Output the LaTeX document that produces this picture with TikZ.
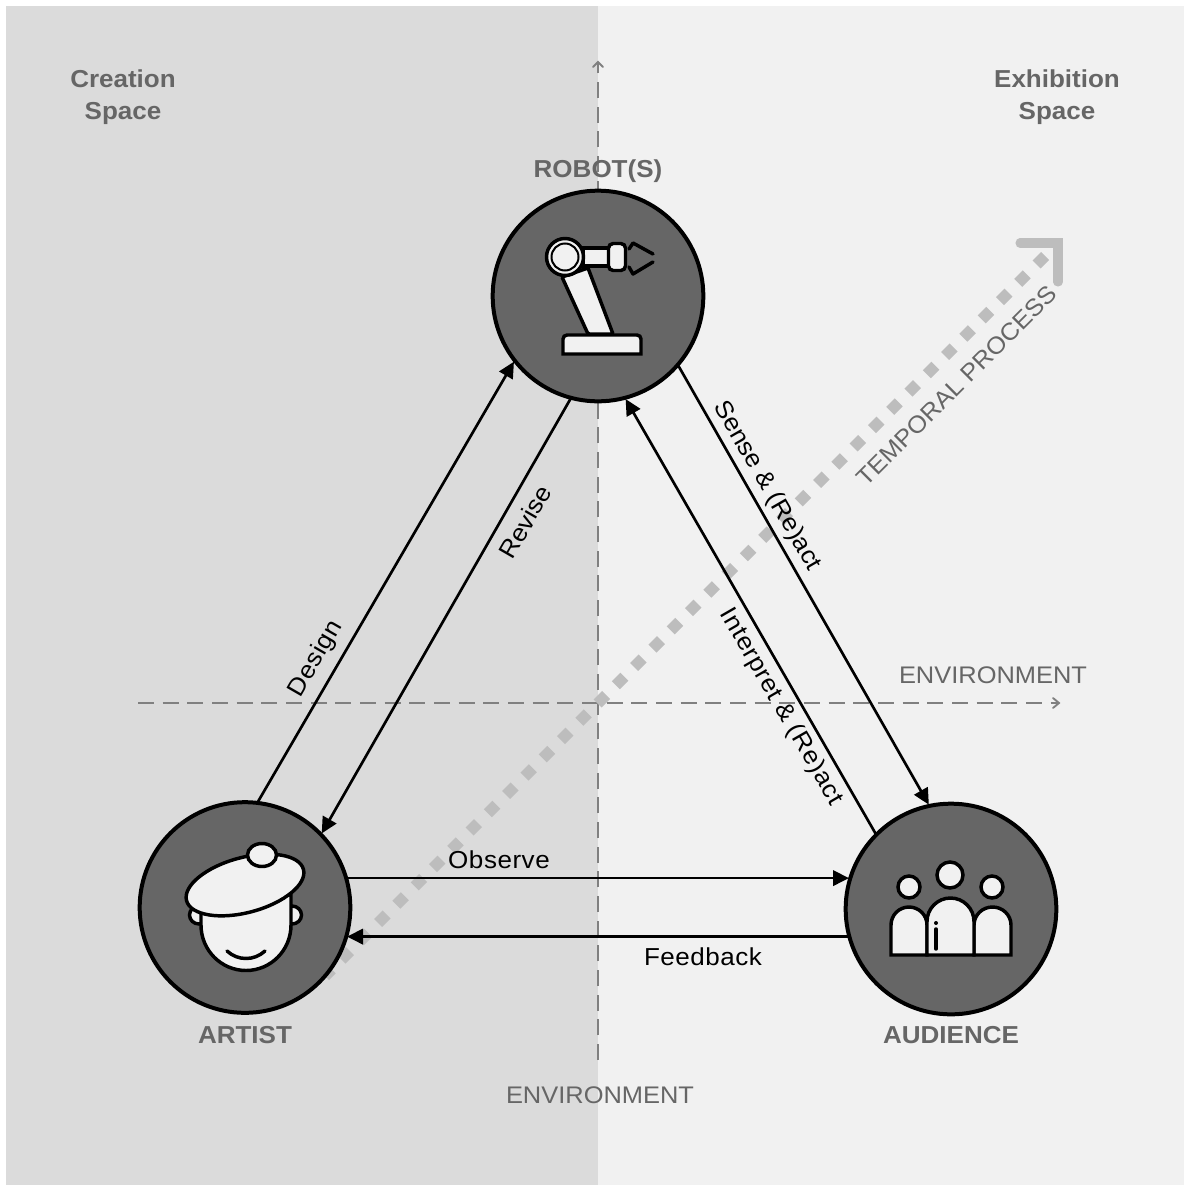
\documentclass[tikz,border=0pt]{standalone}
\usepackage{fontspec}
\usetikzlibrary{arrows.meta}
\setmainfont[FakeStretch=1.06]{Liberation Sans}
\newfontfamily\spacedfont[FakeStretch=1.06,LetterSpace=2.2]{Liberation Sans}
\definecolor{leftbg}{HTML}{DBDBDB}
\definecolor{rightbg}{HTML}{F1F1F1}
\definecolor{disc}{HTML}{666666}
\definecolor{iconfill}{HTML}{F1F1F1}
\definecolor{tempgrey}{HTML}{BDBDBD}
\definecolor{dashgrey}{HTML}{808080}
\tikzset{
  px/.style={x=0.75pt,y=-0.75pt},
  actor/.style={circle,draw=black,fill=disc,line width=3pt,minimum size=158pt,inner sep=0pt,outer sep=1pt},
  flow/.style={draw=black,line width=2pt,-{Triangle[length=12pt,width=11.5pt]}},
  flowlabel/.style={text=black,font=\fontsize{18.4}{22}\selectfont,inner sep=0pt},
  spacedlabel/.style={text=black,font=\spacedfont\fontsize{18.4}{22}\selectfont,inner sep=0pt},
  greylabel/.style={text=disc,font=\fontsize{18}{22}\selectfont,inner sep=0pt},
  headlabel/.style={text=disc,font=\fontsize{18.4}{24}\bfseries\selectfont,inner sep=0pt,align=center},
  axisline/.style={draw=dashgrey,line width=1.4pt,dash pattern=on 12pt off 6.5pt},
  axishead/.style={draw=dashgrey,line width=1.4pt,line cap=round,line join=miter},
  icon/.style={draw=black,fill=iconfill,line width=2.6pt},
  thinicon/.style={draw=black,line width=2.6pt,line cap=round,line join=round},
}
\begin{document}
\begin{tikzpicture}[px]
\useasboundingbox (0,0) rectangle (1184,1185);
\fill[white] (0,0) rectangle (1184,1185);
\fill[leftbg] (6,6) rectangle (598,1185);
\fill[rightbg] (598,6) rectangle (1184,1185);

% axes
\coordinate (hstart) at (138,703);
\coordinate (hend) at (1058,703);
\coordinate (vstart) at (598,1060);
\coordinate (vend) at (598,62);
\draw[axisline] (hstart) -- (hend);
\draw[axisline] (vstart) -- (vend);
\draw[axishead] (1053,698) -- (1059,703) -- (1053,708);
\draw[axishead] (593,67) -- (598,62) -- (603,67);

% temporal process
\coordinate (tstart) at (325,976);
\coordinate (tend) at (1045,256);
\draw[draw=tempgrey,line width=8.5pt,dash pattern=on 9pt off 10.4pt] (tend) -- (tstart);
\draw[draw=tempgrey,line width=6.8pt,line cap=round,line join=miter] (1020,243) -- (1058,243) -- (1058,282);

% actors
\node[actor] (robot) at (598,296) {};
\node[actor] (artist) at (245,907.5) {};
\node[actor] (audience) at (951,909) {};

% robot icon
\draw[icon,rounded corners=1pt] (562,277) -- (588,268) -- (613,334) -- (588,334) -- cycle;
\draw[icon] (583,248) rectangle (609,266);
\draw[icon,rounded corners=3.5pt] (608.5,243.5) rectangle (625.5,270.5);
\draw[icon] (563,354) [rounded corners=3pt] -- (563,335) -- (641,335) [sharp corners] -- (641,354) -- cycle;
\draw[icon] (565,257) circle[radius=18.5];
\draw[draw=black,line width=1.5pt] (565,257) circle[radius=13.5];
\draw[thinicon] (629,249) -- (633,243) -- (653,254);
\draw[thinicon] (629,267) -- (633,274) -- (653,262);

% artist icon
\draw[icon] (199,915) ellipse[x radius=9.5,y radius=9];
\draw[icon] (292,915) ellipse[x radius=9.5,y radius=9];
\draw[icon] (201,895) -- (201,925) arc[start angle=180,end angle=0,x radius=45,y radius=45.5] -- (291,895) -- cycle;
\draw[icon] (245,885) ellipse[x radius=60.5,y radius=27.5,rotate=15];
\draw[icon] (262,855) ellipse[x radius=14.5,y radius=11.5];
\draw[thinicon] (227,951) .. controls (238,961) and (254,961) .. (265,951);

% audience icon
\draw[icon] (950,875) circle[radius=13];
\draw[icon] (909,887) circle[radius=11];
\draw[icon] (992,887) circle[radius=11];
\draw[icon] (891,955) -- (891,925) arc[start angle=180,end angle=360,radius=18] -- (927,955) -- cycle;
\draw[icon] (974,955) -- (974,925) arc[start angle=180,end angle=360,x radius=18.5,y radius=18] -- (1011,955) -- cycle;
\draw[icon] (927,955) -- (927,921.5) arc[start angle=180,end angle=360,radius=23.5] -- (974,955) -- cycle;
\fill[black] (936,923) circle[radius=2];
\draw[thinicon] (936,929) -- (936,949);

% connectors
\draw[flow] (artist.83) -- (robot.218);
\draw[flow] (robot.255) -- (artist.44);
\draw[flow] (robot.-41) -- (audience.102);
\draw[flow] (audience.135) -- (robot.-75);
\draw[flow] (artist.16.5) -- (artist.16.5 -| audience.163);
\draw[flow] (audience.195.5) -- (audience.195.5 -| artist.-17);

% labels
\node[headlabel] (creationlabel) at (123,97) {Creation\\Space};
\node[headlabel] (exhibitionlabel) at (1057,97) {Exhibition\\Space};
\node[headlabel] (robotlabel) at (598,171) {ROBOT(S)};
\node[headlabel] (artistlabel) at (245,1035) {ARTIST};
\node[headlabel] (audiencelabel) at (951,1035) {AUDIENCE};
\node[greylabel] (envright) at (993,675) {ENVIRONMENT};
\node[greylabel] (envbottom) at (600,1095) {ENVIRONMENT};
\node[greylabel,rotate=45] (temporal) at (957,386) {TEMPORAL PROCESS};
\node[spacedlabel,rotate=60] (design) at (316,659) {Design};
\node[flowlabel,rotate=60] (revise) at (525,522) {Revise};
\node[flowlabel,rotate=-60] (sense) at (767,486) {Sense \& (Re)act};
\node[spacedlabel,rotate=-60] (interpret) at (781,707) {Interpret \& (Re)act};
\node[spacedlabel] (observe) at (499,860) {Observe};
\node[spacedlabel] (feedback) at (703,957) {Feedback};
\end{tikzpicture}
\end{document}
